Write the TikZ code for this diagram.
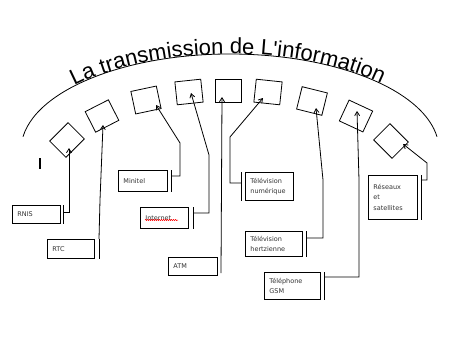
\documentclass[tikz,border=0pt]{standalone}
\usepackage{fontspec}
\setmainfont{DejaVu Sans}
\newfontfamily\titlefont{Liberation Sans}
\usetikzlibrary{arrows.meta,decorations.text,decorations.pathmorphing}
\begin{document}
\begin{tikzpicture}[x=1pt,y=-1pt,line width=0.8pt,
  sq/.style={draw,minimum width=26pt,minimum height=23pt,inner sep=0pt},
  lbl/.style={draw,anchor=north west,font=\fontsize{6.5}{10.5}\selectfont,text=black!80,align=left,inner xsep=5pt,inner ysep=0pt},
  arr/.style={-{Straight Barb[length=4pt,width=5pt]}}]
\useasboundingbox[fill=white] (0,0) rectangle (461,348);
% arc and title
\draw (23.03,136.64) arc[start angle=172,end angle=8,x radius=209pt,y radius=96pt];
\path[decorate,decoration={text along path,text format delimiters={|}{|},
  text={|\titlefont\fontsize{22}{22}\selectfont|La transmission de L'information},text align=center}]
  (54.72,97.72) arc[start angle=147,end angle=35,x radius=209pt,y radius=96pt];
% small boxes
\node[sq,rotate=45]  (s1) at (67,140) {};
\node[sq,rotate=27]  (s2) at (102,116) {};
\node[sq,rotate=12]  (s3) at (146,100) {};
\node[sq,rotate=6]   (s4) at (189,92) {};
\node[sq]            (s5) at (228,91) {};
\node[sq,rotate=-6]  (s6) at (268,92) {};
\node[sq,rotate=-14] (s7) at (312,101) {};
\node[sq,rotate=-25] (s8) at (356,116) {};
\node[sq,rotate=-45] (s9) at (391,141) {};
% stray mark
\draw[line width=1.6pt] (40,158) -- (40,169);
% label boxes
\node[lbl,text width=38pt,minimum height=18pt] (rnis) at (12,205) {RNIS};
\node[lbl,text width=37pt,minimum height=19pt] (rtc) at (47,239) {RTC};
\node[lbl,text width=39pt,minimum height=21pt] (minitel) at (118,170) {Minitel};
\node[lbl,text width=38pt,minimum height=21pt] (internet) at (140,207) {Internet};
\node[lbl,text width=39pt,minimum height=18pt] (atm) at (168,257) {ATM};
\node[lbl,text width=38pt,minimum height=28pt] (tvn) at (245,172) {Télévision\\numérique};
\node[lbl,text width=47pt,minimum height=25pt] (tvh) at (245,231) {Télévision\\hertzienne};
\node[lbl,text width=46pt,minimum height=27pt] (gsm) at (264,272) {Téléphone\\GSM};
\node[lbl,text width=39pt,minimum height=44pt] (res) at (368,175) {Réseaux\\et\\satellites};
\draw[red,line width=0.5pt,decorate,decoration={snake,amplitude=0.6pt,segment length=2pt}] (145,220) -- (178,220);
% bars beside label boxes
\draw ([xshift=3pt]rnis.north east) -- ([xshift=3pt]rnis.south east);
\draw ([xshift=5pt]rtc.north east) -- ([xshift=5pt]rtc.south east);
\draw ([xshift=4pt]minitel.north east) -- ([xshift=4pt]minitel.south east);
\draw ([xshift=5pt]internet.north east) -- ([xshift=5pt]internet.south east);
\draw ([xshift=-4pt]tvn.north west) -- ([xshift=-4pt]tvn.south west);
\draw ([xshift=4pt]tvh.north east) -- ([xshift=4pt]tvh.south east);
\draw ([xshift=4pt]gsm.north east) -- ([xshift=4pt]gsm.south east);
\draw ([xshift=4pt]res.north east) -- ([xshift=4pt]res.south east);
% arrow tips inside boxes
\coordinate (t1) at (69,148);
\coordinate (t2) at (103,125);
\coordinate (t3) at (156,105);
\coordinate (t4) at (191,93);
\coordinate (t5) at (222,97);
\coordinate (t6) at (263,98);
\coordinate (t7) at (316,108);
\coordinate (t8) at (357,111);
\coordinate (t9) at (403,144);
% junctions and bends
\coordinate (j1) at (63,212);
\coordinate (j2) at (99,239);
\coordinate (j3) at (171,176); \coordinate (k3) at (180,143);
\coordinate (j4) at (193,213); \coordinate (k4) at (209,155);
\coordinate (j5) at (221,273);
\coordinate (j6) at (241,183); \coordinate (k6) at (230,137);
\coordinate (j7) at (306,238); \coordinate (k7) at (323,180);
\coordinate (j8) at (324,277); \coordinate (k8) at (359,180);
\coordinate (j9) at (421,180); \coordinate (k9) at (427,163);
% connectors
\draw[arr] (j1) -| (t1);
\draw[arr] (j2) -- (100,200) -- (t2);
\draw[arr] (j3) -| (k3) -- (t3);
\draw[arr] (j4) -| (k4) -- (t4);
\draw[arr] (j5) -- (t5);
\draw[arr] (j6) -| (k6) -- (t6);
\draw[arr] (j7) -| (k7) -- (t7);
\draw[arr] (j8) -| (k8) -- (t8);
\draw[arr] (j9) -| (k9) -- (t9);
\end{tikzpicture}
\end{document}
